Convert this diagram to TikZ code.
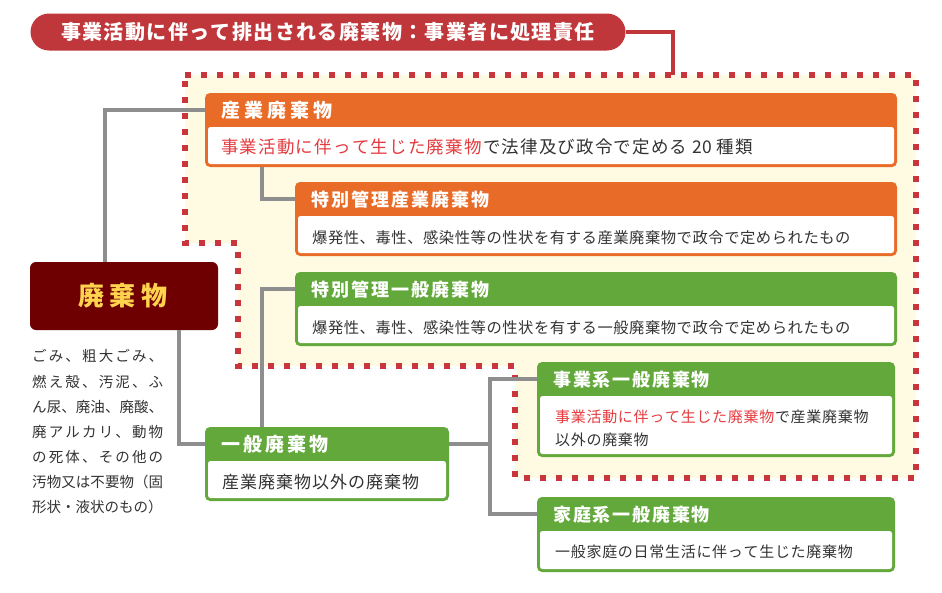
\documentclass[tikz,border=0pt]{standalone}
\usepackage{fontspec}
\setmainfont{Noto Sans CJK JP}
\usetikzlibrary{fit}
\definecolor{pillred}{HTML}{C0373B}
\definecolor{dotred}{HTML}{C9353D}
\definecolor{orangeC}{HTML}{E96B28}
\definecolor{greenC}{HTML}{62A83A}
\definecolor{maroon}{HTML}{6E0002}
\definecolor{yellowT}{HTML}{FFD34D}
\definecolor{cream}{HTML}{FFFBE2}
\definecolor{grayC}{HTML}{8E8E8E}
\definecolor{txtgray}{HTML}{333333}
\definecolor{redT}{HTML}{E53B3F}
\def\lspend{\lspend}
\newcommand\lsp[2]{\def\lspglue{\hskip #1\relax}\lspA#2\lspend}
\def\lspA#1{\ifx#1\lspend\unskip\else#1\lspglue\expandafter\lspA\fi}
\newcommand\mkbox[7]{%
  \fill[#6, rounded corners=5pt] (#2,#3) rectangle (#4,#5);
  \fill[white, rounded corners=2.5pt] ({#2+3},{#3+34}) rectangle ({#4-3},{#5-3});
  \node[fit={(#2,#3) (#4,#5)}, inner sep=0pt] (#1) {};
  \node[fit={(#2,#3) (#4,{#3+34})}, inner sep=0pt] (#1H) {};
  \node[ttl] (#1L) at ({#2+16},{#3+17.5}) {#7};
}
\tikzset{
  ttl/.style={anchor=west, inner sep=0pt, text=white, font=\bfseries\fontsize{18}{18}\selectfont},
  body/.style={anchor=west, inner sep=0pt, text=txtgray},
  conn/.style={draw=grayC, line width=4pt},
  redln/.style={draw=pillred, line width=4pt},
  lt/.style={anchor=west, inner sep=0pt, text=txtgray, font=\fontsize{14.5}{14.5}\selectfont},
}
\begin{document}
\begin{tikzpicture}[x=1pt,y=-1pt]
\useasboundingbox (0,0) rectangle (942,592);
\fill[white] (0,0) rectangle (942,592);
% cream region with dotted border
\filldraw[fill=cream, draw=dotred, line width=6pt, dash pattern=on 6pt off 10pt]
  (185,75) -- (916,75) -- (916,478) -- (515,478) -- (515,366) -- (238,366) -- (238,243) -- (185,243) -- cycle;
% top pill
\node[fill=pillred, rounded corners=18.5pt, minimum width=595pt, minimum height=37pt, inner sep=0pt,
  text=white, font=\bfseries\fontsize{20}{20}\selectfont] (top) at (328,32)
  {\lsp{1.4pt}{事業活動に伴って排出される廃棄物：事業者に処理責任}};
\coordinate (rc) at (673,75);
\draw[redln] (top.east) -| (rc);
% haiki
\node[fit={(30,262) (218,330)}, inner sep=0pt, fill=maroon, rounded corners=6pt] (haiki) {};
\node[text=yellowT, font=\bfseries\fontsize{26}{26}\selectfont, inner sep=0pt] (haikiL) at (123,296) {\lsp{6pt}{廃棄物}};
% left text
\node[lt] (l1) at (32,356) {\makebox[131pt][s]{\lsp{0pt plus 1fil}{ごみ、粗大ごみ、}}};
\node[lt] (l2) at (32,381.5) {\makebox[131pt][s]{\lsp{0pt plus 1fil}{燃え殻、汚泥、ふ}}};
\node[lt] (l3) at (32,407) {\makebox[131pt][s]{\lsp{0pt plus 1fil}{ん尿、廃油、廃酸、}}};
\node[lt] (l4) at (32,432) {\makebox[131pt][s]{\lsp{0pt plus 1fil}{廃アルカリ、動物}}};
\node[lt] (l5) at (32,457) {\makebox[131pt][s]{\lsp{0pt plus 1fil}{の死体、その他の}}};
\node[lt] (l6) at (32,482) {\makebox[131pt][s]{\lsp{0pt plus 1fil}{汚物又は不要物（固}}};
\node[lt] (l7) at (32,507) {形状・液状のもの）};
% boxes
\mkbox{sangyo}{205}{93}{897}{167}{orangeC}{\fontsize{19}{19}\selectfont\lsp{4pt}{産業廃棄物}}
\mkbox{tokusan}{295}{182}{897}{256}{orangeC}{\lsp{2pt}{特別管理産業廃棄物}}
\mkbox{tokuippan}{295}{272}{897}{346}{greenC}{\lsp{2pt}{特別管理一般廃棄物}}
\mkbox{ippan}{205}{427}{449}{501}{greenC}{\fontsize{19}{19}\selectfont\lsp{3pt}{一般廃棄物}}
\mkbox{jigyo}{537}{362}{895}{457}{greenC}{\lsp{1.8pt}{事業系一般廃棄物}}
\mkbox{katei}{537}{497}{895}{572}{greenC}{\lsp{1.8pt}{家庭系一般廃棄物}}
% connectors
\draw[conn] ([xshift=-19pt]haiki.north) |- (sangyoH.west);
\draw[conn] ([xshift=57pt]sangyo.south west) |- (tokusanH.west);
\draw[conn] ([xshift=55pt]haiki.south) |- (ippanH.west);
\draw[conn] ([xshift=57pt]ippan.north west) |- (tokuippanH.west);
\coordinate (j) at (490,444);
\draw[conn] (ippanH.east) -- (j);
\draw[conn] (jigyoH.west) -| (j) |- (kateiH.west);
% body texts
\node[body, font=\fontsize{17.5}{17.5}\selectfont] (sangyoT) at (221,147)
  {\textcolor{redT}{\lsp{1.2pt}{事業活動に伴って生じた廃棄物}}\hskip1.2pt\lsp{1.2pt}{で法律及び政令で定める}\hskip5pt 20\hskip5pt\lsp{1.2pt}{種類}};
\node[body, font=\fontsize{15.3}{15.3}\selectfont] (tokusanT) at (312,237.5)
  {\lsp{0.55pt}{爆発性、毒性、感染性等の性状を有する産業廃棄物で政令で定められたもの}};
\node[body, font=\fontsize{15.3}{15.3}\selectfont] (tokuippanT) at (312,327.5)
  {\lsp{0.55pt}{爆発性、毒性、感染性等の性状を有する一般廃棄物で政令で定められたもの}};
\node[body, font=\fontsize{17}{17}\selectfont] (ippanT) at (222,482.5)
  {\lsp{1pt}{産業廃棄物以外の廃棄物}};
\node[body, font=\fontsize{15}{15}\selectfont] (jigyoT1) at (555,416.5)
  {\textcolor{redT}{\lsp{0.7pt}{事業活動に伴って生じた廃棄物}}\hskip0.7pt\lsp{0.7pt}{で産業廃棄物}};
\node[body, font=\fontsize{15}{15}\selectfont] (jigyoT2) at (555,439.5)
  {\lsp{0.7pt}{以外の廃棄物}};
\node[body, font=\fontsize{15}{15}\selectfont] (kateiT) at (555,551.5)
  {\lsp{0.7pt}{一般家庭の日常生活に伴って生じた廃棄物}};
\end{tikzpicture}
\end{document}
